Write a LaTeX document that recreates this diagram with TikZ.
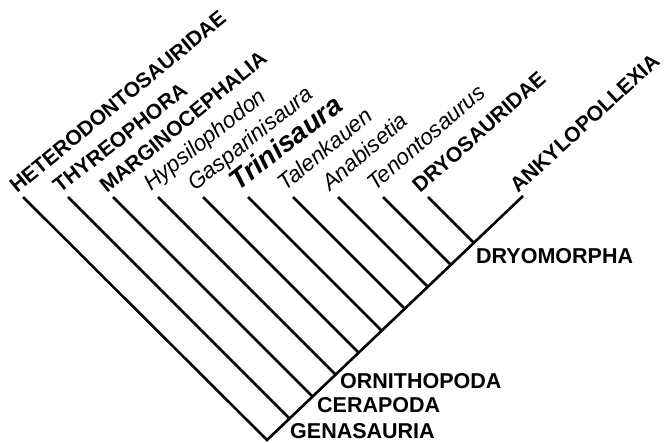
\documentclass[tikz,border=0pt]{standalone}
\usepackage{fontspec}
\setmainfont{Liberation Sans}
\begin{document}
\begin{tikzpicture}[x=1pt,y=-1pt,
  br/.style={line width=2.6pt, line join=miter},
  taxU/.style={anchor=base west, inner sep=0pt, font=\fontsize{21}{24}\selectfont\bfseries},
  taxI/.style={anchor=base west, inner sep=0pt, font=\fontsize{22.5}{25}\selectfont\itshape},
  taxT/.style={anchor=base west, inner sep=0pt, font=\fontsize{28}{30}\selectfont\bfseries\itshape},
  clade/.style={anchor=base west, inner sep=0pt, font=\fontsize{21.5}{24}\selectfont\bfseries}]
\useasboundingbox (0,0) rectangle (666,442);
% root and tips
\coordinate (r) at (267,440);
\coordinate (t1) at (23,197);
\coordinate (t2) at (68,197);
\coordinate (t3) at (113,197);
\coordinate (t4) at (158,197);
\coordinate (t5) at (203,197);
\coordinate (t6) at (248,197);
\coordinate (t7) at (293,197);
\coordinate (t8) at (338,197);
\coordinate (t9) at (383,197);
\coordinate (t10) at (428,197);
\coordinate (t11) at (523,196);
% junctions on the spine
\coordinate (j2) at (290.1,419.1);
\coordinate (j3) at (313.1,397.1);
\coordinate (j4) at (336.1,375.1);
\coordinate (j5) at (359.2,353.2);
\coordinate (j6) at (382.2,331.2);
\coordinate (j7) at (405.3,309.3);
\coordinate (j8) at (428.3,287.3);
\coordinate (j9) at (451.4,265.4);
\coordinate (j10) at (474.4,243.4);
% branches
\draw[br] (t1) -- (r) -- (t11);
\draw[br] (t2) -- (j2);
\draw[br] (t3) -- (j3);
\draw[br] (t4) -- (j4);
\draw[br] (t5) -- (j5);
\draw[br] (t6) -- (j6);
\draw[br] (t7) -- (j7);
\draw[br] (t8) -- (j8);
\draw[br] (t9) -- (j9);
\draw[br] (t10) -- (j10);
% tip labels
\node[taxU, rotate=39.5] (n1) at ([shift={(-6,-3)}]t1) {HETERODONTOSAURIDAE};
\node[taxU, rotate=38] (n2) at ([shift={(-8,-3)}]t2) {THYREOPHORA};
\node[taxU, rotate=39.5] (n3) at ([shift={(-6,-3)}]t3) {MARGINOCEPHALIA};
\node[taxI, rotate=38.5] (n4) at ([shift={(-7,-5)}]t4) {Hypsilophodon};
\node[taxI, rotate=38.5] (n5) at ([shift={(-8,-5)}]t5) {Gasparinisaura};
\node[taxT, rotate=38] (n6) at ([shift={(-10,-5)}]t6) {Trinisaura};
\node[taxI, rotate=39.5] (n7) at ([shift={(-8,-5)}]t7) {Talenkauen};
\node[taxI, rotate=41] (n8) at ([shift={(-8,-5)}]t8) {Anabisetia};
\node[taxI, rotate=41] (n9) at ([shift={(-8,-5)}]t9) {Tenontosaurus};
\node[taxU, rotate=41.5] (n10) at ([shift={(-8,-3)}]t10) {DRYOSAURIDAE};
\node[taxU, rotate=42.5] (n11) at ([shift={(-5,-2)}]t11) {ANKYLOPOLLEXIA};
% clade labels
\node[clade] (c1) at (340,388) {ORNITHOPODA};
\node[clade] (c2) at (317,412) {CERAPODA};
\node[clade] (c3) at (290,438) {GENASAURIA};
\node[clade] (c4) at (476,263) {DRYOMORPHA};
\end{tikzpicture}
\end{document}
